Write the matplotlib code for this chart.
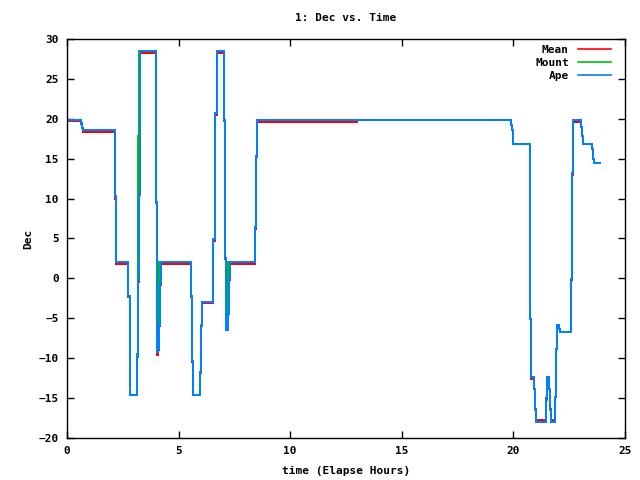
import matplotlib
matplotlib.use("Agg")
import matplotlib.pyplot as plt

# Ape (blue) - step data, hours vs dec
ape_t = [0.0, 0.63, 0.69, 0.73, 2.15, 2.21, 2.75, 2.81, 2.84, 3.15, 3.20, 3.23, 3.27, 3.29,
         4.00, 4.03, 4.06, 4.11, 4.15, 4.21, 5.56, 5.62, 5.66, 5.97, 6.02, 6.06, 6.56, 6.63,
         6.70, 7.05, 7.10, 7.14, 7.23, 7.26, 7.30, 8.41, 8.45, 8.50, 19.88, 19.93, 19.98,
         20.00, 20.73, 20.76, 20.80, 20.92, 20.96, 21.00, 21.47, 21.52, 21.61, 21.65, 21.70,
         21.86, 21.91, 21.97, 22.03, 22.09, 22.60, 22.64, 22.68, 23.04, 23.09, 23.13, 23.52,
         23.58, 23.63, 23.88]
ape_v = [19.9, 19.5, 18.9, 18.6, 10.3, 2.0, -2.2, -10.4, -14.6, -9.8, -0.2, 10.6, 22.6, 28.5,
         9.5, -9.2, -8.9, -5.8, -0.6, 2.0, -2.2, -10.4, -14.6, -11.7, -5.8, -2.9, 4.9, 20.7,
         28.5, 19.9, 2.6, -6.5, -4.4, 0.0, 2.0, 6.4, 15.4, 19.85, 19.2, 18.6, 17.3,
         16.8, 9.4, -5.1, -12.4, -13.8, -16.5, -18.0, -15.2, -12.4, -13.8, -16.5, -18.0,
         -14.8, -8.8, -5.8, -6.4, -6.7, -0.1, 13.2, 19.9, 19.0, 17.8, 16.8, 16.2,
         15.0, 14.4, 14.4]

# Mean (red)
mean_t = [0.0, 0.63, 0.69, 0.73, 2.15, 2.21, 2.75, 2.81, 2.84, 3.15, 3.20, 3.23, 3.27, 3.29,
          4.00, 4.03, 4.06, 4.11, 4.15, 4.21, 5.56, 5.62, 5.66, 5.97, 6.02, 6.06, 6.56, 6.63,
          6.70, 7.05, 7.10, 7.14, 7.23, 7.26, 7.30, 8.41, 8.45, 8.50, 13.0, 19.88, 19.93, 19.98,
          20.00, 20.73, 20.76, 20.80, 20.92, 20.96, 21.00, 21.47, 21.52, 21.61, 21.65, 21.70,
          21.86, 21.91, 21.97, 22.03, 22.09, 22.60, 22.64, 22.68, 23.04, 23.09, 23.13, 23.52,
          23.58, 23.63, 23.88]
mean_v = [19.7, 19.4, 18.8, 18.4, 10.0, 1.8, -2.3, -10.5, -14.6, -9.9, -0.4, 10.4, 22.4, 28.2,
          9.6, -9.6, -9.0, -6.0, -0.8, 1.8, -2.3, -10.5, -14.6, -11.8, -6.0, -3.1, 4.7, 20.5,
          28.2, 19.7, 2.4, -6.3, -4.5, -0.2, 1.8, 6.2, 15.2, 19.65, 19.85, 19.2, 18.6, 17.3,
          16.8, 9.4, -5.1, -12.6, -13.9, -16.4, -17.75, -15.0, -12.6, -13.9, -16.4, -17.75,
          -14.8, -8.8, -5.8, -6.4, -6.7, -0.2, 13.0, 19.65, 19.0, 17.8, 16.8, 16.2,
          15.0, 14.4, 14.4]

# Mount (green)
mount_t = [0.0, 0.63, 0.69, 0.73, 2.15, 2.21, 2.75, 2.81, 2.84, 3.13, 3.17, 3.24,
           4.00, 4.03, 4.07, 4.13, 5.56, 5.62, 5.66, 5.97, 6.02, 6.06, 6.56, 6.63,
           6.70, 7.05, 7.10, 7.14, 7.20, 7.21, 8.41, 8.45, 8.50, 19.88, 19.93, 19.98,
           20.00, 20.73, 20.76, 20.80, 20.92, 20.96, 21.00, 21.47, 21.52, 21.61, 21.65, 21.70,
           21.86, 21.91, 21.97, 22.03, 22.09, 22.60, 22.64, 22.68, 23.04, 23.09, 23.13, 23.52,
           23.58, 23.63, 23.88]
mount_v = [19.9, 19.5, 18.9, 18.6, 10.3, 2.0, -2.2, -10.4, -14.6, -9.5, 17.8, 28.5,
           9.5, -9.2, -6.5, 2.0, -2.2, -10.4, -14.6, -11.7, -5.8, -2.9, 4.9, 20.7,
           28.5, 19.9, 2.6, -6.5, -4.0, 2.0, 6.4, 15.4, 19.85, 19.2, 18.6, 17.3,
           16.8, 9.4, -5.1, -12.4, -13.8, -16.5, -18.0, -15.2, -12.4, -13.8, -16.5, -18.0,
           -14.8, -8.8, -5.8, -6.4, -6.7, -0.1, 13.2, 19.9, 19.0, 17.8, 16.8, 16.2,
           15.0, 14.4, 14.4]

xticks = [0, 5, 10, 15, 20, 25]
yticks = [-20, -15, -10, -5, 0, 5, 10, 15, 20, 25, 30]

plt.rcParams['font.family'] = 'DejaVu Sans Mono'
plt.rcParams['font.weight'] = 'bold'
plt.rcParams['font.size'] = 8

fig = plt.figure(figsize=(6.4, 4.8), dpi=100)
ax = fig.add_axes([67/640, 1-438/480, (625-67)/640, (438-39)/480])

ax.plot(mean_t, mean_v, drawstyle='steps-post', color='#ff0000', lw=1.2, antialiased=False, label='Mean')
ax.plot(mount_t, mount_v, drawstyle='steps-post', color='#00c000', lw=1.2, antialiased=False, label='Mount')
ax.plot(ape_t, ape_v, drawstyle='steps-post', color='#0080ff', lw=1.2, antialiased=False, label='Ape')

ax.set_xlim(0, 25)
ax.set_ylim(-20, 30)
ax.set_xticks(xticks)
ax.set_yticks(yticks)
ax.tick_params(direction='in', length=5, width=1, top=True, right=True, pad=6, labelsize=8)
for sp in ax.spines.values():
    sp.set_linewidth(1)

ax.set_title('1: Dec vs. Time', fontsize=8, fontweight='bold', pad=13)
ax.set_xlabel('time (Elapse Hours)', fontsize=8, fontweight='bold', labelpad=7)
ax.set_ylabel('Dec', fontsize=8, fontweight='bold', labelpad=4)

ax.legend(loc='upper right', bbox_to_anchor=(0.985, 1.0), frameon=False, markerfirst=False,
          handlelength=3.0, fontsize=8, labelspacing=0.3, borderaxespad=0.1, handletextpad=0.8)

fig.savefig('out.png', dpi=100)
